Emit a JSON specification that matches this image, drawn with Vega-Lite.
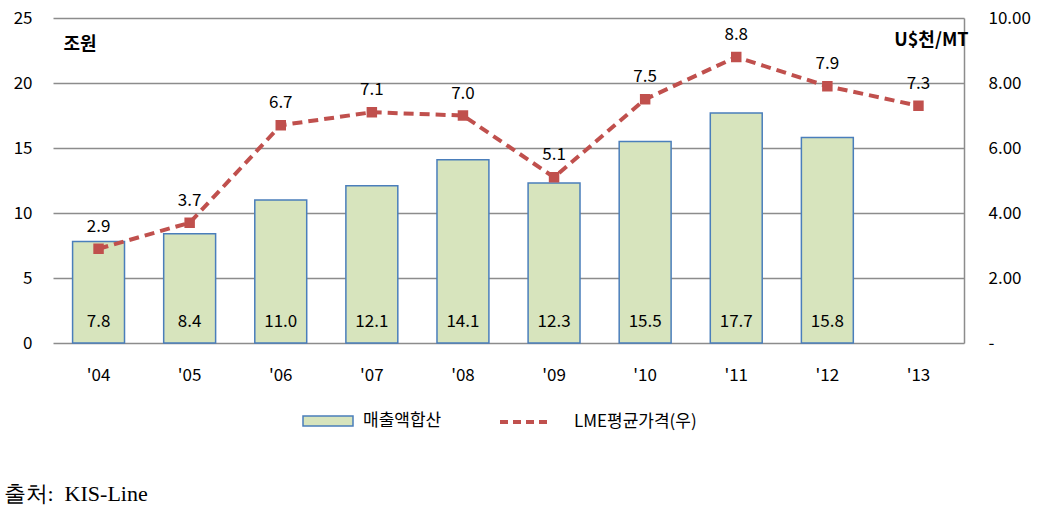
{
  "$schema": "https://vega.github.io/schema/vega-lite/v6.json",
  "width": 911,
  "height": 325,
  "autosize": {"type": "none"},
  "padding": {"left": 53, "top": 18, "right": 81, "bottom": 170},
  "background": "white",
  "config": {
    "view": {"stroke": null},
    "font": "Noto Sans CJK KR",
    "axis": {"labelFont": "Noto Sans CJK KR", "labelColor": "#000000", "labelFontSize": 17, "ticks": false}
  },
  "data": {"values": [
    {"year": "'04", "sales": 7.8, "lme": 2.9},
    {"year": "'05", "sales": 8.4, "lme": 3.7},
    {"year": "'06", "sales": 11.0, "lme": 6.7},
    {"year": "'07", "sales": 12.1, "lme": 7.1},
    {"year": "'08", "sales": 14.1, "lme": 7.0},
    {"year": "'09", "sales": 12.3, "lme": 5.1},
    {"year": "'10", "sales": 15.5, "lme": 7.5},
    {"year": "'11", "sales": 17.7, "lme": 8.8},
    {"year": "'12", "sales": 15.8, "lme": 7.9},
    {"year": "'13", "sales": null, "lme": 7.3}
  ]},
  "encoding": {
    "x": {
      "field": "year", "type": "nominal", "sort": null,
      "scale": {"paddingInner": 0.43, "paddingOuter": 0.215},
      "axis": {
        "labelAngle": 0, "domain": false, "labelPadding": 24,
        "title": "출처:\u00a0 KIS-Line", "titleFont": "Liberation Serif", "titleFontSize": 22,
        "titleFontWeight": "normal", "titleColor": "#000000",
        "titleAlign": "left", "titleAnchor": "start", "titleBaseline": "alphabetic",
        "titleX": -50, "titleY": 157
      }
    }
  },
  "layer": [
    {
      "layer": [
        {
          "mark": {"type": "bar", "stroke": "#4a7ebb", "strokeWidth": 1.5},
          "encoding": {
            "y": {
              "field": "sales", "type": "quantitative",
              "scale": {"domain": [0, 25], "nice": false},
              "axis": {
                "values": [0, 5, 10, 15, 20, 25], "grid": true, "gridColor": "#8c8c8c", "gridWidth": 1.5,
                "domain": false, "labelPadding": 21,
                "title": "조원", "titleAngle": 0, "titleAlign": "left", "titleBaseline": "middle",
                "titleX": 10, "titleY": 26, "titleFontSize": 18, "titleFontWeight": "bold", "titleColor": "#000000"
              }
            },
            "fill": {
              "datum": "매출액합산", "type": "nominal",
              "scale": {"range": ["#d7e4bd"]},
              "legend": {
                "orient": "none", "legendX": 249, "legendY": 377, "title": null,
                "symbolType": "M-1,-0.2H1V0.2H-1Z", "symbolSize": 2500,
                "symbolStrokeColor": "#4a7ebb", "symbolStrokeWidth": 1.5,
                "labelFontSize": 17, "labelColor": "#000000", "labelOffset": 9
              }
            }
          }
        },
        {
          "transform": [{"filter": "datum.sales != null"}],
          "mark": {"type": "text", "fontSize": 17, "dy": -21, "color": "#000000"},
          "encoding": {
            "y": {"datum": 0, "type": "quantitative"},
            "text": {"field": "sales", "type": "quantitative", "format": ".1f"}
          }
        }
      ]
    },
    {
      "layer": [
        {
          "mark": {"type": "line", "strokeWidth": 4, "strokeDash": [10, 6]},
          "encoding": {
            "y": {
              "field": "lme", "type": "quantitative",
              "scale": {"domain": [0, 10], "nice": false},
              "axis": {
                "orient": "right", "values": [0, 2, 4, 6, 8, 10], "grid": false,
                "domain": true, "domainColor": "#8c8c8c", "domainWidth": 1.5,
                "labelAlign": "left", "labelPadding": 24,
                "labelExpr": "datum.value == 0 ? '-' : format(datum.value, '.2f')",
                "title": "U$천/MT", "titleAngle": 0, "titleAlign": "right", "titleBaseline": "middle",
                "titleX": 4, "titleY": 22, "titleFontSize": 18, "titleFontWeight": "bold", "titleColor": "#000000"
              }
            },
            "stroke": {
              "datum": "LME평균가격(우)", "type": "nominal",
              "scale": {"range": ["#c0504d"]},
              "legend": {
                "orient": "none", "legendX": 445, "legendY": 377, "title": null,
                "symbolType": "stroke", "symbolSize": 2500, "symbolStrokeWidth": 4, "symbolDash": [8, 5],
                "labelFontSize": 17, "labelColor": "#000000", "labelOffset": 22
              }
            }
          }
        },
        {
          "mark": {"type": "point", "shape": "square", "filled": true, "size": 110, "color": "#c0504d", "opacity": 1},
          "encoding": {"y": {"field": "lme", "type": "quantitative"}}
        },
        {
          "mark": {"type": "text", "fontSize": 17, "dy": -22, "color": "#000000"},
          "encoding": {
            "y": {"field": "lme", "type": "quantitative"},
            "text": {"field": "lme", "type": "quantitative", "format": ".1f"}
          }
        }
      ]
    }
  ],
  "resolve": {"scale": {"y": "independent", "fill": "independent", "stroke": "independent"}}
}
